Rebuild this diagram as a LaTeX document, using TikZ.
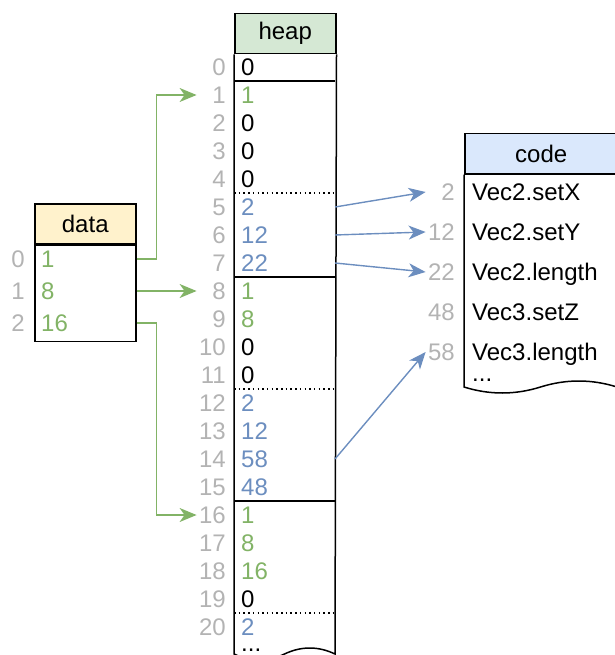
\documentclass[tikz,border=0pt]{standalone}
\usepackage{fontspec}
\setmainfont{Liberation Sans}
\usetikzlibrary{arrows.meta}

\definecolor{heapfill}{HTML}{D5E8D4}
\definecolor{datafill}{HTML}{FFF2CC}
\definecolor{codefill}{HTML}{DAE8FC}
\definecolor{ptrgreen}{HTML}{82B366}
\definecolor{ptrblue}{HTML}{6C8EBF}
\definecolor{idxgray}{HTML}{B3B3B3}

\tikzset{
  box/.style={draw, line width=1.5pt, inner sep=0pt},
  idx/.style={text=idxgray, text width=28pt, align=right, inner sep=1pt,
    anchor=east, text height=17pt, text depth=0pt},
  val/.style={anchor=west, inner sep=0pt, text height=17pt, text depth=0pt},
  ptr/.style={line width=1.4pt, -{Stealth[length=17pt,width=14pt,inset=5pt]}},
}

\begin{document}
\begin{tikzpicture}[x=1pt, y=-1pt, font=\fontsize{24}{28}\selectfont]
  \useasboundingbox (0,0) rectangle (614,655);

  % heap column, runs off the bottom
  \node[box, fill=heapfill, minimum width=101pt, minimum height=40pt,
    anchor=north west] (heaphead) at (234,13) {heap};
  \draw[line width=1.5pt] (heaphead.south west) -- (234,654)
    .. controls (250.8,662) and (267.7,662) .. (284.5,654)
    .. controls (301.3,646) and (318.2,646) .. (335,654)
    -- (heaphead.south east);
  \coordinate (heapR) at (335,0);
  % object boundaries
  \foreach \y in {81,277,501}
    \draw[line width=1.5pt] (234,\y) -- (335,\y);
  \foreach \y in {193,389,613}
    \draw[line width=1.5pt, dash pattern=on 1.5pt off 3.2pt] (234,\y) -- (335,\y);
  \foreach \i/\v/\c in {0/0/black, 1/1/ptrgreen, 2/0/black, 3/0/black, 4/0/black,
      5/2/ptrblue, 6/12/ptrblue, 7/22/ptrblue, 8/1/ptrgreen, 9/8/ptrgreen,
      10/0/black, 11/0/black, 12/2/ptrblue, 13/12/ptrblue, 14/58/ptrblue,
      15/48/ptrblue, 16/1/ptrgreen, 17/8/ptrgreen, 18/16/ptrgreen,
      19/0/black, 20/2/ptrblue} {
    \node[idx] (hi\i) at (227,{67+28*\i}) {\i};
    \node[val, text=\c] (hv\i) at (241,{67+28*\i}) {\v};
  }
  \node[anchor=base west, inner sep=0pt] (hmore) at (241,651) {...};

  % data table
  \node[box, fill=datafill, minimum width=101pt, minimum height=40pt,
    anchor=north west] (datahead) at (34,203) {data};
  \node[box, minimum width=101pt, minimum height=96pt,
    anchor=north west] (databody) at (datahead.south west) {};
  \foreach \i/\v in {0/1, 1/8, 2/16} {
    \node[idx] (di\i) at (26,{259+32*\i}) {\i};
    \node[val, text=ptrgreen] (dv\i) at (41,{259+32*\i}) {\v};
  }

  % code table
  \node[box, fill=codefill, minimum width=153pt, minimum height=40pt,
    anchor=north west] (codehead) at (464,133) {code};
  \draw[line width=1.5pt] (codehead.south west) -- (464,387)
    .. controls (489.5,395) and (515,395) .. (540.5,387)
    .. controls (566,379) and (591.5,379) .. (617,387)
    -- (codehead.south east);
  \foreach \i/\a/\f in {0/2/Vec2.setX, 1/12/Vec2.setY, 2/22/Vec2.length,
      3/48/Vec3.setZ, 4/58/Vec3.length} {
    \node[idx] (ci\i) at (456,{192+40*\i}) {\a};
    \node[val] (cf\i) at (472,{192+40*\i}) {\f};
  }
  \node[anchor=base west, inner sep=0pt] (cmore) at (472,381) {...};

  % pointers into the heap
  \draw[ptr, ptrgreen] (databody.east |- dv0) -- ++(20,0) |- (hi1.west);
  \draw[ptr, ptrgreen] (databody.east |- dv1) -- (hi8.west);
  \draw[ptr, ptrgreen] (databody.east |- dv2) -- ++(20,0) |- (hi16.west);

  % method table entries
  \draw[ptr, ptrblue] (heapR |- hv5) -- (ci0.west);
  \draw[ptr, ptrblue] (heapR |- hv6) -- (ci1.west);
  \draw[ptr, ptrblue] (heapR |- hv7) -- (ci2.west);
  \draw[ptr, ptrblue] (heapR |- hv14) -- (ci4.west);
\end{tikzpicture}
\end{document}
